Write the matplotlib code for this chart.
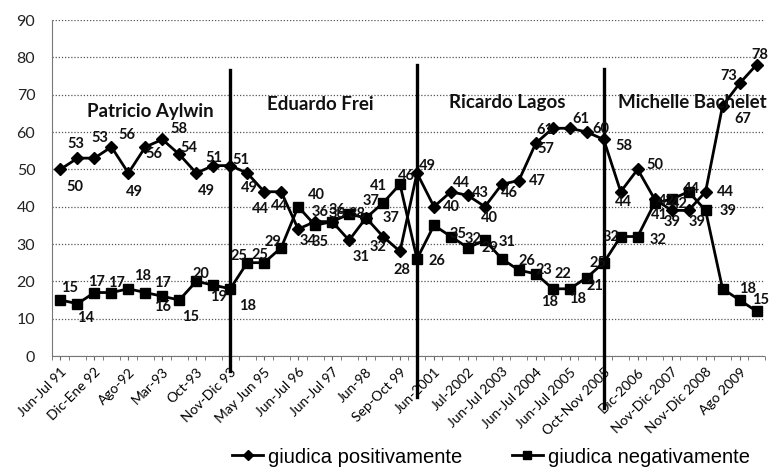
import matplotlib
matplotlib.use("Agg")
import matplotlib.pyplot as plt
import numpy as np

# ---------------- data ----------------
tick_labels = ["Jun-Jul 91", "Dic-Ene 92", "Ago-92", "Mar-93", "Oct-93", "Nov-Dic 93",
               "May Jun 95", "Jun-Jul 96", "Jun-Jul 97", "Jun-98", "Sep-Oct 99",
               "Jun-2001", "Jul-2002", "Jun-Jul 2003", "Jun-Jul 2004", "Jun-Jul 2005",
               "Oct-Nov 2005", "Dic-2006", "Nov-Dic 2007", "Nov-Dic 2008", "Ago 2009"]

positive = [50, 53, 53, 56, 49, 56, 58, 54, 49, 51, 51,
            49, 44, 44, 34, 36, 36, 31, 37, 32, 28,
            49,
            40, 44, 43, 40, 46, 47, 57, 61, 61, 60,
            58,
            44, 50, 42, 39, 39, 44, 67, 73, 78]

negative = [15, 14, 17, 17, 18, 17, 16, 15, 20, 19, 18,
            25, 25, 29, 40, 35, 36, 38, 37, 41, 46,
            26,
            35, 32, 29, 31, 26, 23, 22, 18, 18, 21, 25,
            32, 32, 41, 42, 44, 39, 18, 15, 12]

presidents = ["Patricio Aylwin", "Eduardo Frei", "Ricardo Lagos", "Michelle Bachelet"]
separators = [10, 21, 32]
series_names = ["giudica positivamente", "giudica negativamente"]

# ---------------- styling ----------------
# label offsets (pixels: dx right, dy down) relative to each marker
pos_label_off = [(14, 18), (-2, -14), (5, -20), (15, -12), (6, 19), (8, 7), (16, -10),
                 (10, -6), (10, 18), (1, -8), (11, -6), (2, 15), (-4, 17), (-2, 14),
                 (10, 12), (5, -10), (5, -12), (12, 17), (25, 0), (-5, 10), (2, 19),
                 (10, -7), (17, 0), (10, -9), (12, -2), (4, 11), (8, 9), (18, 0),
                 (10, 6), (-8, 2), (11, -9), (14, -3), (20, 7), (3, 10), (17, -4),
                 (12, 2), (0, 12), (8, 12), (20, 0), (20, 13), (-11, -7), (3, -10)]
neg_label_off = [(9, -12), (8, 14), (2, -11), (5, -10), (14, -13), (17, -10), (0, 11),
                 (11, 17), (5, -7), (5, 12), (17, 17), (-8, -7), (-4, -8), (-8, -6),
                 (18, -12), (5, 17), (5, -8), (8, 0), (5, -17), (-5, -17), (6, -8),
                 (20, 2), (24, 9), (22, 2), (22, 0), (22, 2), (25, 2), (25, 0),
                 (27, 0), (-3, 13), (8, 10), (8, 8), (-6, 0), (-10, 0), (20, 3),
                 (5, 12), (8, 5), (3, -3), (22, 1), (25, 0), (21, 0), (23, 0)]

W, H = 769, 469
fig = plt.figure(figsize=(W / 100, H / 100), dpi=100)
ax = fig.add_axes([52 / W, 1 - 356 / H, (765 - 52) / W, (356 - 20) / H])

n = len(positive)
x = np.arange(n)

ax.set_xlim(-0.5, n - 0.5)
ax.set_ylim(0, 90)
ax.set_yticks(np.arange(0, 91, 10))
ax.yaxis.grid(True, color="#555555", linestyle=(0, (1, 1.5)), linewidth=0.9)
ax.set_axisbelow(True)
for s in ["top", "right"]:
    ax.spines[s].set_visible(False)
ax.spines["left"].set_color("#777777")
ax.spines["left"].set_linestyle((0, (1, 1)))
ax.spines["bottom"].set_color("#777777")
ax.spines["bottom"].set_linestyle((0, (1, 1)))

ax.set_xticks(np.arange(0, n, 2))
ax.set_xticklabels(tick_labels, rotation=45, ha="right", va="top",
                   rotation_mode="anchor", fontsize=10, family="Lato")
ax.set_xticks(np.arange(-0.5, n, 1), minor=True)
ax.tick_params(axis="x", which="both", length=3, color="#666666", pad=4)
ax.tick_params(axis="y", length=0, pad=12, labelsize=11.5)
for t in ax.get_yticklabels():
    t.set_family("Lato")
    t.set_color("#222222")

l1, = ax.plot(x, positive, color="black", lw=2.0, marker="D", ms=6.5,
              mfc="black", mec="black", zorder=4)
l2, = ax.plot(x, negative, color="black", lw=2.0, marker="s", ms=7.5,
              mfc="black", mec="black", zorder=4)

for vals, offs in [(positive, pos_label_off), (negative, neg_label_off)]:
    for i, (v, (dx, dy)) in enumerate(zip(vals, offs)):
        ax.annotate(str(v), (i, v), xytext=(dx, -dy), textcoords="offset pixels",
                    ha="center", va="center", fontsize=10.5, fontweight="bold",
                    family="Lato", color="#111111", zorder=6)

# president separators
sep_tops = [76.5, 78, 77]
sep_bottoms = [-4, -11, -14]
for s, t, b in zip(separators, sep_tops, sep_bottoms):
    ax.plot([s, s], [b, t], color="black", lw=2.4, clip_on=False, zorder=5)

name_pos = [(5.3, 65.5), (15.3, 67.3), (26.3, 67.8), (37.2, 68.0)]
for name, (px, py) in zip(presidents, name_pos):
    ax.text(px, py, name, ha="center", va="center", fontsize=13.5,
            fontweight="bold", family="Lato", color="#111111", zorder=6)

leg = fig.legend([l1, l2], series_names, loc="center", bbox_to_anchor=(491 / W, 1 - 457 / H),
                 ncol=2, frameon=False, prop={"family": "Liberation Sans", "size": 14.5},
                 handlelength=1.5, handletextpad=0.25, columnspacing=2.5, markerscale=0.85)

fig.savefig("out.png", dpi=100)
